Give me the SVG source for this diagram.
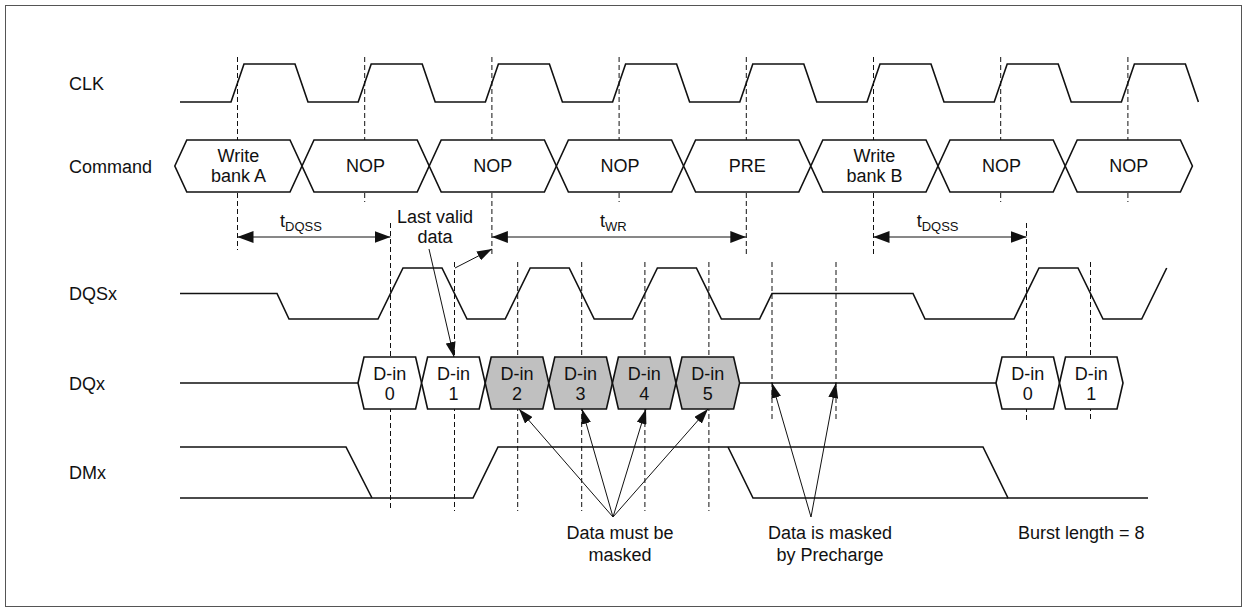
<svg xmlns="http://www.w3.org/2000/svg" width="1247" height="612" viewBox="0 0 1247 612">
<defs>
<style>
text{font-family:"Liberation Sans",Arial,sans-serif;font-size:18px;fill:#111}
.c{text-anchor:middle}
.sig{fill:none;stroke:#111;stroke-width:1.6;stroke-linejoin:miter}
.bus{fill:#fff;stroke:#111;stroke-width:1.6}
.gbus{fill:#c0c0c0;stroke:#111;stroke-width:1.6}
.dash{stroke:#111;stroke-width:1;stroke-dasharray:5 3;fill:none}
.arr{stroke:#111;stroke-width:1;fill:none}
.tarr{stroke:#111;stroke-width:1;fill:none;marker-start:url(#ah);marker-end:url(#ah)}
.sub{font-size:13px}
</style>
<marker id="ah" viewBox="0 0 16 12" refX="16" refY="6" markerWidth="16" markerHeight="12" markerUnits="userSpaceOnUse" orient="auto-start-reverse">
<path d="M0,0 L16,6 L0,12 Z" fill="#111"/>
</marker>
<marker id="ah2" viewBox="0 0 15 10" refX="15" refY="5" markerWidth="15" markerHeight="10" markerUnits="userSpaceOnUse" orient="auto">
<path d="M0,0 L15,5 L0,10 Z" fill="#111"/>
</marker>
</defs>
<rect x="5.5" y="5.5" width="1236" height="601" fill="#fff" stroke="#555" stroke-width="1"/>

<g id="labels">
<text x="69" y="89.5">CLK</text>
<text x="69" y="172.5">Command</text>
<text x="69" y="300">DQSx</text>
<text x="69" y="389.5">DQx</text>
<text x="69" y="479">DMx</text>
</g>

<g id="grid">
<line class="dash" x1="237.5" y1="57" x2="237.5" y2="250"/>
<line class="dash" x1="364.7" y1="57" x2="364.7" y2="202"/>
<line class="dash" x1="491.9" y1="57" x2="491.9" y2="255"/>
<line class="dash" x1="619.1" y1="57" x2="619.1" y2="202"/>
<line class="dash" x1="746.3" y1="57" x2="746.3" y2="255"/>
<line class="dash" x1="873.5" y1="57" x2="873.5" y2="255"/>
<line class="dash" x1="1000.7" y1="57" x2="1000.7" y2="202"/>
<line class="dash" x1="1127.9" y1="57" x2="1127.9" y2="202"/>
<line class="dash" x1="390.5" y1="223" x2="390.5" y2="511"/>
<line class="dash" x1="454.5" y1="262" x2="454.5" y2="511"/>
<line class="dash" x1="517.7" y1="262" x2="517.7" y2="511"/>
<line class="dash" x1="581.7" y1="262" x2="581.7" y2="511"/>
<line class="dash" x1="644.9" y1="262" x2="644.9" y2="511"/>
<line class="dash" x1="708.9" y1="262" x2="708.9" y2="511"/>
<line class="dash" x1="772" y1="262" x2="772" y2="421"/>
<line class="dash" x1="836" y1="262" x2="836" y2="421"/>
<line class="dash" x1="1026.5" y1="223" x2="1026.5" y2="421"/>
<line class="dash" x1="1090.5" y1="262" x2="1090.5" y2="421"/>
</g>

<g id="clk">
<path class="sig" d="M180,102 H231 L244,64 H295 L308,102 H358.2 L371.2,64 H422.2 L435.2,102 H485.4 L498.4,64 H549.4 L562.4,102 H612.6 L625.6,64 H676.6 L689.6,102 H739.8 L752.8,64 H803.8 L816.8,102 H867 L880,64 H931 L944,102 H994.2 L1007.2,64 H1058.2 L1071.2,102 H1121.4 L1134.4,64 H1185.4 L1198.4,102"/>
</g>

<g id="command">
<path class="bus" d="M174.8,166 L186.8,140 H290 L302,166 L290,192 H186.8 Z"/>
<path class="bus" d="M302,166 L314,140 H417.2 L429.2,166 L417.2,192 H314 Z"/>
<path class="bus" d="M429.2,166 L441.2,140 H544.4 L556.4,166 L544.4,192 H441.2 Z"/>
<path class="bus" d="M556.4,166 L568.4,140 H671.6 L683.6,166 L671.6,192 H568.4 Z"/>
<path class="bus" d="M683.6,166 L695.6,140 H798.8 L810.8,166 L798.8,192 H695.6 Z"/>
<path class="bus" d="M810.8,166 L822.8,140 H926 L938,166 L926,192 H822.8 Z"/>
<path class="bus" d="M938,166 L950,140 H1053.2 L1065.2,166 L1053.2,192 H950 Z"/>
<path class="bus" d="M1065.2,166 L1077.2,140 H1180.4 L1192.4,166 L1180.4,192 H1077.2 Z"/>
<text class="c" x="238.4" y="161.5">Write</text>
<text class="c" x="238.4" y="182">bank A</text>
<text class="c" x="365.6" y="172">NOP</text>
<text class="c" x="492.8" y="172">NOP</text>
<text class="c" x="620" y="172">NOP</text>
<text class="c" x="747.2" y="172">PRE</text>
<text class="c" x="874.4" y="161.5">Write</text>
<text class="c" x="874.4" y="182">bank B</text>
<text class="c" x="1001.6" y="172">NOP</text>
<text class="c" x="1128.8" y="172">NOP</text>
</g>

<g id="dqs">
<path class="sig" d="M180,293.5 H277 L289,319 H378 L403,268 H442 L467,319 H505.2 L530.2,268 H569.2 L594.2,319 H632.4 L657.4,268 H696.4 L721.4,319 H759.6 L772,293.5 H913 L925,319 H1014 L1039,268 H1078 L1103,319 H1141.7 L1166.7,268"/>
</g>

<g id="dq">
<path class="sig" d="M180,383 H358 M739.6,383 H996"/>
<path class="bus" d="M358,383 L364,357 H415.6 L421.6,383 L415.6,409 H364 Z"/>
<path class="bus" d="M421.6,383 L427.6,357 H479.2 L485.2,383 L479.2,409 H427.6 Z"/>
<path class="gbus" d="M485.2,383 L491.2,357 H542.8 L548.8,383 L542.8,409 H491.2 Z"/>
<path class="gbus" d="M548.8,383 L554.8,357 H606.4 L612.4,383 L606.4,409 H554.8 Z"/>
<path class="gbus" d="M612.4,383 L618.4,357 H670 L676,383 L670,409 H618.4 Z"/>
<path class="gbus" d="M676,383 L682,357 H733.6 L739.6,383 L733.6,409 H682 Z"/>
<path class="bus" d="M996,383 L1002,357 H1053.5 L1059.5,383 L1053.5,409 H1002 Z"/>
<path class="bus" d="M1059.5,383 L1065.5,357 H1117 L1123,383 L1117,409 H1065.5 Z"/>
<text class="c" x="389.8" y="379.5">D-in</text><text class="c" x="389.8" y="399.5">0</text>
<text class="c" x="453.4" y="379.5">D-in</text><text class="c" x="453.4" y="399.5">1</text>
<text class="c" x="517" y="379.5">D-in</text><text class="c" x="517" y="399.5">2</text>
<text class="c" x="580.6" y="379.5">D-in</text><text class="c" x="580.6" y="399.5">3</text>
<text class="c" x="644.2" y="379.5">D-in</text><text class="c" x="644.2" y="399.5">4</text>
<text class="c" x="707.8" y="379.5">D-in</text><text class="c" x="707.8" y="399.5">5</text>
<text class="c" x="1027.7" y="379.5">D-in</text><text class="c" x="1027.7" y="399.5">0</text>
<text class="c" x="1091.2" y="379.5">D-in</text><text class="c" x="1091.2" y="399.5">1</text>
</g>

<g id="dm">
<path class="sig" d="M180,447 H346 L372,498"/>
<path class="sig" d="M180,498 H473 L498,447 H983 L1008,498 H1148"/>
<path class="sig" d="M728,447 L753,498 H1008"/>
</g>

<g id="timing">
<line class="tarr" x1="237.5" y1="237" x2="390.5" y2="237"/>
<line class="tarr" x1="491.9" y1="237" x2="746.3" y2="237"/>
<line class="tarr" x1="873.5" y1="237" x2="1026.5" y2="237"/>
<text x="280" y="227">t<tspan class="sub" dy="4">DQSS</tspan></text>
<text x="600" y="227">t<tspan class="sub" dy="4">WR</tspan></text>
<text x="916.7" y="227">t<tspan class="sub" dy="4">DQSS</tspan></text>
</g>

<g id="connectors">
<line class="arr" marker-end="url(#ah2)" x1="429" y1="249" x2="454" y2="357"/>
<line class="arr" marker-end="url(#ah2)" x1="455" y1="268" x2="492" y2="249"/>
<line class="arr" marker-end="url(#ah2)" x1="613" y1="517" x2="519" y2="409"/>
<line class="arr" marker-end="url(#ah2)" x1="613" y1="517" x2="582" y2="409"/>
<line class="arr" marker-end="url(#ah2)" x1="613" y1="517" x2="646" y2="409"/>
<line class="arr" marker-end="url(#ah2)" x1="613" y1="517" x2="708" y2="409"/>
<line class="arr" marker-end="url(#ah2)" x1="811" y1="517" x2="772" y2="383"/>
<line class="arr" marker-end="url(#ah2)" x1="811" y1="517" x2="836" y2="383"/>
</g>

<g id="notes">
<text class="c" x="435" y="223">Last valid</text>
<text class="c" x="435" y="243">data</text>
<text class="c" x="620" y="539">Data must be</text>
<text class="c" x="620" y="561">masked</text>
<text class="c" x="830" y="539">Data is masked</text>
<text class="c" x="830" y="561">by Precharge</text>
<text x="1018" y="539">Burst length = 8</text>
</g>
</svg>
